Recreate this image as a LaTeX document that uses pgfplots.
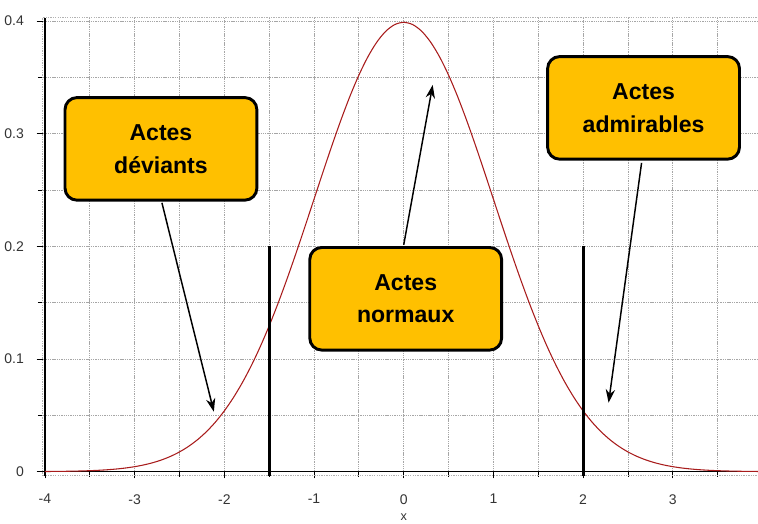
\documentclass[border=0pt]{standalone}
\usepackage{fontspec}
\setmainfont{Liberation Sans}
\usepackage{pgfplots}
\pgfplotsset{compat=1.18}
\usetikzlibrary{arrows.meta}
\definecolor{boxfill}{HTML}{FFC000}
\definecolor{curvered}{HTML}{A81C1C}
\begin{document}
\begin{tikzpicture}
\begin{axis}[
  scale only axis, width=536.5pt, height=340.65pt,
  xmin=-4.02, xmax=3.95, ymin=0, ymax=0.403,
  clip=false,
  axis line style={draw=none},
  xtick={-4,-3,-2,-1,0,1,2,3},
  xticklabels={-4,-3,-2,-1,0,1,2,3},
  ytick={0,0.1,0.2,0.3,0.4},
  yticklabels={0,0.1,0.2,0.3,0.4},
  minor xtick={-3.5,-2.5,-1.5,-0.5,0.5,1.5,2.5,3.5},
  minor ytick={0.05,0.15,0.25,0.35},
  grid=both,
  major grid style={gray!70, dash pattern=on 1pt off 0.7pt, line width=0.6pt},
  minor grid style={gray!70, dash pattern=on 1pt off 0.7pt, line width=0.6pt},
  xtick pos=bottom, ytick pos=left,
  tick align=outside,
  major tick length=5pt, minor tick length=4pt,
  tick style={black, line width=0.6pt},
  /pgf/number format/assume math mode=true,
  ticklabel style={font=\fontsize{10.5}{12}\selectfont, text=black!80},
  xticklabel style={yshift=-8.5pt},
  yticklabel style={xshift=-6pt},
]
% axis frame lines
\draw[gray!60, dash pattern=on 1pt off 0.8pt, line width=0.8pt] (axis cs:-4.02,-0.0036) -- (axis cs:3.95,-0.0036);
\draw[black, line width=1.1pt] (axis cs:-4.02,0) -- (axis cs:3.95,0);
\draw[gray!60, dash pattern=on 1pt off 0.8pt, line width=0.8pt] (axis cs:-4.03,-0.004) -- (axis cs:-4.03,0.403);
\draw[black, line width=1.1pt] (axis cs:-4.0,-0.004) -- (axis cs:-4.0,0.403);
\draw[gray!60, dash pattern=on 1pt off 0.8pt, line width=0.6pt] (axis cs:-4.02,0.403) -- (axis cs:3.95,0.403);

\addplot[curvered, line width=0.8pt, smooth] coordinates {
(-4.0,0.000134) (-3.9,0.000199) (-3.8,0.000292) (-3.7,0.000425) (-3.6,0.000612)
(-3.5,0.000873) (-3.4,0.001232) (-3.3,0.001723) (-3.2,0.002384) (-3.1,0.003267)
(-3.0,0.004432) (-2.9,0.005953) (-2.8,0.007915) (-2.7,0.010421) (-2.6,0.013583)
(-2.5,0.017528) (-2.4,0.022395) (-2.3,0.028327) (-2.2,0.035475) (-2.1,0.043984)
(-2.0,0.053991) (-1.9,0.065616) (-1.8,0.078950) (-1.7,0.094049) (-1.6,0.110921)
(-1.5,0.129518) (-1.4,0.149727) (-1.3,0.171369) (-1.2,0.194186) (-1.1,0.217852)
(-1.0,0.241971) (-0.9,0.266085) (-0.8,0.289692) (-0.7,0.312254) (-0.6,0.333225)
(-0.5,0.352065) (-0.4,0.368270) (-0.3,0.381388) (-0.2,0.391043) (-0.1,0.396953)
(0.0,0.398942)
(0.1,0.396953) (0.2,0.391043) (0.3,0.381388) (0.4,0.368270) (0.5,0.352065)
(0.6,0.333225) (0.7,0.312254) (0.8,0.289692) (0.9,0.266085) (1.0,0.241971)
(1.1,0.217852) (1.2,0.194186) (1.3,0.171369) (1.4,0.149727) (1.5,0.129518)
(1.6,0.110921) (1.7,0.094049) (1.8,0.078950) (1.9,0.065616) (2.0,0.053991)
(2.1,0.043984) (2.2,0.035475) (2.3,0.028327) (2.4,0.022395) (2.5,0.017528)
(2.6,0.013583) (2.7,0.010421) (2.8,0.007915) (2.9,0.005953) (3.0,0.004432)
(3.1,0.003267) (3.2,0.002384) (3.3,0.001723) (3.4,0.001232) (3.5,0.000873)
(3.6,0.000612) (3.7,0.000425) (3.8,0.000292) (3.9,0.000199) (3.95,0.000164)
};
\addplot[black, line width=2.3pt] coordinates {(-1.5,-0.004) (-1.5,0.2)};
\addplot[black, line width=2.3pt] coordinates {(2,-0.004) (2,0.2)};

% arrows
\draw[black, line width=1.1pt, -{Stealth[length=10pt,width=7pt]}] (axis cs:-2.696,0.2387) -- (axis cs:-2.117,0.0532);
\draw[black, line width=1.1pt, -{Stealth[length=10pt,width=7pt]}] (axis cs:0.0,0.2014) -- (axis cs:0.323,0.3434);
\draw[black, line width=1.1pt, -{Stealth[length=10pt,width=7pt]}] (axis cs:2.652,0.2742) -- (axis cs:2.284,0.0612);

% boxes
\tikzset{abox/.style={draw=black, line width=2.2pt, fill=boxfill, rounded corners=9pt,
  minimum width=144pt, minimum height=77pt, align=center,
  font=\fontsize{17.3}{24.5}\selectfont\bfseries}}
\node[abox] at (axis cs:-2.707,0.2866) {Actes\\déviants};
\node[abox] at (axis cs:0.022,0.1535) {Actes\\normaux};
\node[abox] at (axis cs:2.674,0.323) {Actes\\admirables};

\node[font=\fontsize{9.5}{11}\selectfont, text=black!80] at (axis cs:0,0) [yshift=-34.5pt] {x};

\coordinate (BL) at (axis cs:-4.02,0);
\coordinate (TR) at (axis cs:3.95,0.403);
\end{axis}
\pgfresetboundingbox
\path ([xshift=-32.4pt,yshift=-39pt]BL) rectangle ([yshift=13.35pt]TR);
\end{tikzpicture}
\end{document}
